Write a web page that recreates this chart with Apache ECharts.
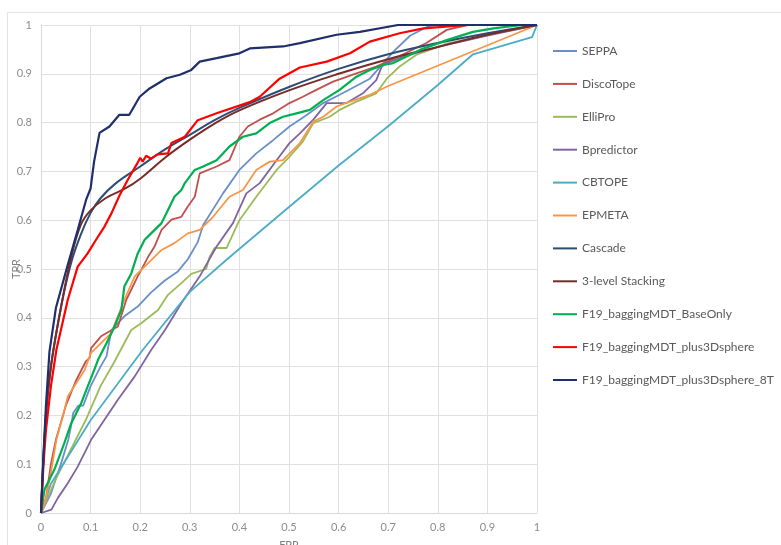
<!DOCTYPE html>
<html>
<head>
<meta charset="utf-8">
<title>ROC</title>
<script src="https://cdn.jsdelivr.net/npm/echarts@6/dist/echarts.min.js"></script>
<style>
  html, body { margin: 0; padding: 0; background: #fff; }
  #main { width: 781px; height: 545px; }
</style>
</head>
<body>
<div id="main"></div>
<script>
var xTicks = [0, 0.1, 0.2, 0.3, 0.4, 0.5, 0.6, 0.7, 0.8, 0.9, 1];
var yTicks = [0, 0.1, 0.2, 0.3, 0.4, 0.5, 0.6, 0.7, 0.8, 0.9, 1];

// [FPR, TPR]
var seppa = [[0,0],[0.02,0.04],[0.04,0.1],[0.055,0.15],[0.06,0.175],[0.065,0.205],[0.075,0.22],[0.085,0.22],[0.1,0.26],[0.12,0.3],[0.132,0.321],[0.142,0.375],[0.168,0.403],[0.195,0.423],[0.222,0.452],[0.249,0.476],[0.276,0.495],[0.296,0.52],[0.316,0.555],[0.327,0.59],[0.367,0.655],[0.4,0.703],[0.434,0.737],[0.468,0.764],[0.501,0.792],[0.535,0.815],[0.569,0.84],[0.602,0.857],[0.663,0.89],[0.71,0.945],[0.744,0.978],[0.78,0.997],[0.8,1],[1,1]];
var discoTope = [[0,0],[0.01,0.03],[0.02,0.1],[0.03,0.15],[0.05,0.22],[0.07,0.27],[0.09,0.31],[0.098,0.318],[0.101,0.338],[0.121,0.362],[0.155,0.382],[0.172,0.437],[0.195,0.485],[0.216,0.525],[0.229,0.546],[0.243,0.58],[0.263,0.601],[0.283,0.607],[0.296,0.628],[0.31,0.648],[0.32,0.696],[0.354,0.71],[0.38,0.723],[0.4,0.771],[0.417,0.792],[0.441,0.806],[0.468,0.819],[0.501,0.84],[0.528,0.853],[0.555,0.867],[0.589,0.884],[0.636,0.901],[0.676,0.915],[0.72,0.935],[0.777,0.963],[0.818,0.99],[0.86,1],[1,1]];
var elliPro = [[0,0],[0.03,0.07],[0.06,0.13],[0.09,0.19],[0.12,0.26],[0.148,0.31],[0.182,0.375],[0.202,0.389],[0.236,0.416],[0.256,0.447],[0.283,0.471],[0.303,0.49],[0.333,0.5],[0.34,0.525],[0.35,0.543],[0.374,0.543],[0.4,0.6],[0.434,0.648],[0.475,0.703],[0.501,0.73],[0.528,0.761],[0.549,0.799],[0.582,0.812],[0.602,0.826],[0.636,0.843],[0.676,0.86],[0.697,0.89],[0.723,0.915],[0.757,0.939],[0.784,0.949],[0.818,0.962],[0.9,0.98],[1,1]];
var bpredictor = [[0,0],[0.021,0.007],[0.034,0.031],[0.054,0.061],[0.074,0.095],[0.101,0.15],[0.128,0.191],[0.155,0.232],[0.189,0.28],[0.222,0.334],[0.25,0.375],[0.283,0.43],[0.32,0.485],[0.354,0.546],[0.387,0.594],[0.414,0.655],[0.441,0.676],[0.475,0.723],[0.501,0.758],[0.522,0.778],[0.549,0.806],[0.576,0.84],[0.616,0.84],[0.649,0.86],[0.676,0.887],[0.687,0.915],[0.697,0.922],[0.73,0.935],[0.8,0.955],[0.9,0.978],[1,1]];
var cbtope = [[0,0],[0.02,0.06],[0.1,0.19],[0.205,0.334],[0.3,0.453],[0.374,0.519],[0.5,0.627],[0.6,0.712],[0.703,0.795],[0.8,0.877],[0.871,0.94],[0.99,0.975],[1,1]];
var epmeta = [[0,0],[0.01,0.03],[0.021,0.089],[0.031,0.15],[0.044,0.198],[0.054,0.239],[0.071,0.266],[0.088,0.293],[0.098,0.321],[0.101,0.328],[0.142,0.369],[0.168,0.437],[0.189,0.485],[0.216,0.512],[0.243,0.539],[0.269,0.553],[0.296,0.573],[0.32,0.58],[0.347,0.607],[0.38,0.648],[0.407,0.662],[0.434,0.703],[0.461,0.72],[0.488,0.723],[0.522,0.758],[0.549,0.802],[0.569,0.812],[0.596,0.833],[0.623,0.843],[0.663,0.857],[0.7,0.875],[1,1]];
var cascade = [[0,0],[0.01,0.2],[0.02,0.3],[0.04,0.42],[0.06,0.51],[0.08,0.57],[0.1,0.615],[0.12,0.645],[0.15,0.675],[0.2,0.71],[0.25,0.745],[0.3,0.775],[0.35,0.805],[0.4,0.83],[0.5,0.873],[0.6,0.91],[0.7,0.94],[0.8,0.963],[0.9,0.983],[1,1]];
var stacking3 = [[0,0],[0.01,0.2],[0.02,0.3],[0.04,0.42],[0.06,0.52],[0.08,0.59],[0.1,0.62],[0.13,0.645],[0.17,0.665],[0.2,0.685],[0.25,0.728],[0.3,0.765],[0.35,0.798],[0.4,0.825],[0.5,0.866],[0.6,0.9],[0.7,0.93],[0.8,0.955],[0.9,0.98],[1,1]];
var baseOnly = [[0,0],[0.007,0.048],[0.027,0.089],[0.047,0.143],[0.061,0.184],[0.081,0.225],[0.094,0.259],[0.105,0.287],[0.115,0.314],[0.125,0.334],[0.132,0.348],[0.145,0.375],[0.162,0.416],[0.168,0.464],[0.182,0.491],[0.195,0.532],[0.209,0.56],[0.222,0.573],[0.243,0.594],[0.256,0.621],[0.269,0.648],[0.283,0.662],[0.29,0.676],[0.31,0.703],[0.327,0.71],[0.354,0.723],[0.38,0.751],[0.407,0.771],[0.434,0.778],[0.461,0.799],[0.488,0.812],[0.515,0.819],[0.542,0.826],[0.569,0.846],[0.602,0.867],[0.636,0.894],[0.663,0.908],[0.69,0.918],[0.71,0.922],[0.764,0.949],[0.818,0.969],[0.871,0.986],[0.912,0.993],[0.97,1],[1,1]];
var plus3D = [[0,0],[0.005,0.1],[0.01,0.17],[0.02,0.26],[0.031,0.334],[0.054,0.437],[0.074,0.505],[0.094,0.532],[0.111,0.56],[0.128,0.587],[0.142,0.614],[0.158,0.65],[0.175,0.683],[0.195,0.718],[0.2,0.728],[0.205,0.72],[0.212,0.732],[0.222,0.726],[0.235,0.735],[0.256,0.737],[0.263,0.758],[0.29,0.771],[0.316,0.805],[0.354,0.819],[0.421,0.842],[0.441,0.853],[0.481,0.89],[0.522,0.913],[0.576,0.925],[0.623,0.942],[0.663,0.966],[0.723,0.983],[0.771,0.993],[0.86,1],[1,1]];
var plus3D8T = [[0,0],[0.005,0.12],[0.01,0.22],[0.017,0.33],[0.03,0.42],[0.053,0.505],[0.074,0.58],[0.091,0.642],[0.1,0.665],[0.107,0.72],[0.118,0.779],[0.138,0.792],[0.158,0.816],[0.178,0.816],[0.199,0.853],[0.219,0.87],[0.253,0.891],[0.28,0.898],[0.303,0.908],[0.32,0.925],[0.354,0.932],[0.4,0.942],[0.421,0.952],[0.488,0.956],[0.522,0.963],[0.596,0.98],[0.643,0.986],[0.703,0.997],[0.72,1],[1,1]];

var names = ['SEPPA', 'DiscoTope', 'ElliPro', 'Bpredictor', 'CBTOPE', 'EPMETA', 'Cascade', '3-level Stacking', 'F19_baggingMDT_BaseOnly', 'F19_baggingMDT_plus3Dsphere', 'F19_baggingMDT_plus3Dsphere_8T'];
var curves = [seppa, discoTope, elliPro, bpredictor, cbtope, epmeta, cascade, stacking3, baseOnly, plus3D, plus3D8T];
var colors = ['#6a8fc8', '#c0504d', '#9bbb59', '#8064a2', '#4bacc6', '#f79646', '#2c4d75', '#772c2a', '#00b050', '#ff0000', '#1f2f6b'];
var widths = [1.8, 1.8, 1.8, 1.8, 1.8, 1.8, 2, 2, 2.2, 2.2, 2.2];

var chart = echarts.init(document.getElementById('main'));
var series = [];
for (var i = 0; i < names.length; i++) {
  series.push({
    name: names[i],
    type: 'line',
    data: curves[i],
    showSymbol: false,
    smooth: (i == 6 || i == 7) ? 0.4 : false,
    lineStyle: { color: colors[i], width: widths[i] },
    itemStyle: { color: colors[i] },
    z: 2 + i
  });
}

chart.setOption({
  animation: false,
  textStyle: { fontFamily: 'Lato' },
  graphic: [{
    type: 'rect',
    shape: { x: 7.5, y: 12.5, width: 800, height: 600 },
    style: { fill: 'none', stroke: '#e3e3e3', lineWidth: 1 },
    silent: true
  }],
  grid: { left: 41, right: 244, top: 25, bottom: 32, containLabel: false, outerBoundsMode: 'none' },
  legend: {
    orient: 'vertical',
    left: 553,
    top: 45,
    icon: 'rect',
    itemWidth: 24,
    itemHeight: 2,
    itemGap: 20.9,
    padding: 0,
    data: names,
    textStyle: { color: '#595959', fontSize: 12, fontFamily: 'Lato' }
  },
  xAxis: {
    type: 'value',
    min: xTicks[0],
    max: xTicks[xTicks.length - 1],
    interval: 0.1,
    name: 'FPR',
    nameLocation: 'middle',
    nameGap: 27,
    nameMoveOverlap: false,
    nameTextStyle: { color: '#7f7f7f', fontSize: 11 },
    axisLine: { lineStyle: { color: '#d9d9d9' } },
    axisTick: { show: false },
    axisLabel: { color: '#8c8c8c', fontSize: 11, margin: 9 },
    splitLine: { lineStyle: { color: '#e0e0e0' } }
  },
  yAxis: {
    type: 'value',
    min: yTicks[0],
    max: yTicks[yTicks.length - 1],
    interval: 0.1,
    name: 'TPR',
    nameLocation: 'middle',
    nameGap: 19,
    nameMoveOverlap: false,
    nameTextStyle: { color: '#7f7f7f', fontSize: 11 },
    axisLine: { show: true, lineStyle: { color: '#d9d9d9' } },
    axisTick: { show: false },
    axisLabel: { color: '#8c8c8c', fontSize: 11, margin: 9 },
    splitLine: { lineStyle: { color: '#e0e0e0' } }
  },
  series: series
});
</script>
</body>
</html>
